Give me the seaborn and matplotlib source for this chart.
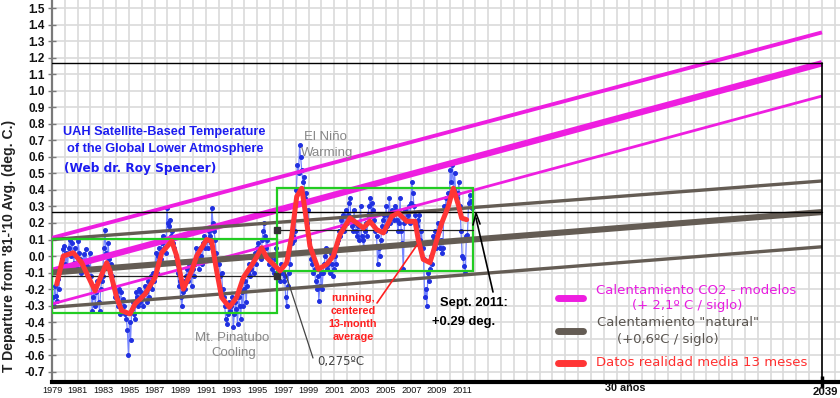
import numpy as np
import pandas as pd
import matplotlib
matplotlib.use("Agg")
import matplotlib.pyplot as plt
import seaborn as sns
from matplotlib.lines import Line2D
from matplotlib.patches import Rectangle

# ---------------- data ----------------
start_year = 1979
monthly_anomaly = [
    -0.25, -0.30, -0.18, -0.24, -0.27, -0.14, -0.20, -0.08, -0.05, -0.02, 0.04, 0.06,   # 1979
    -0.05, 0.02, -0.08, 0.05, 0.10, 0.00, 0.08, 0.02, -0.04, 0.05, 0.00, -0.07,        # 1980
    0.09, 0.02, -0.02, -0.10, -0.06, 0.01, -0.04, 0.04, -0.06, -0.12, -0.03, 0.02,     # 1981
    -0.12, -0.33, -0.25, -0.18, -0.30, -0.22, -0.15, -0.28, -0.33, -0.20, -0.15, -0.12,  # 1982
    0.05, 0.16, 0.02, -0.05, 0.08, -0.02, -0.10, -0.05, -0.12, -0.18, -0.25, -0.22,    # 1983
    -0.25, -0.30, -0.20, -0.35, -0.22, -0.33, -0.26, -0.30, -0.35, -0.38, -0.45, -0.60,  # 1984
    -0.40, -0.51, -0.32, -0.28, -0.35, -0.38, -0.22, -0.25, -0.30, -0.20, -0.28, -0.22,  # 1985
    -0.25, -0.30, -0.18, -0.22, -0.28, -0.15, -0.25, -0.18, -0.12, -0.20, -0.10, -0.15,  # 1986
    -0.05, 0.02, -0.10, 0.00, 0.05, -0.02, 0.08, 0.12, 0.05, 0.10, 0.02, 0.29,         # 1987
    0.20, 0.18, 0.22, 0.12, 0.15, 0.08, 0.05, 0.00, -0.05, -0.10, -0.18, -0.15,        # 1988
    -0.25, -0.30, -0.22, -0.15, -0.20, -0.12, -0.08, -0.15, -0.05, -0.10, -0.18, -0.08,  # 1989
    -0.12, -0.05, 0.05, -0.02, 0.02, -0.08, 0.05, 0.00, -0.05, 0.08, 0.12, 0.05,       # 1990
    0.10, 0.05, 0.15, 0.12, 0.08, 0.29, 0.20, 0.15, 0.10, 0.02, -0.02, -0.05,          # 1991
    -0.05, -0.12, -0.10, -0.20, -0.25, -0.30, -0.38, -0.41, -0.35, -0.28, -0.33, -0.30,  # 1992
    -0.25, -0.43, -0.35, -0.28, -0.32, -0.41, -0.25, -0.30, -0.38, -0.22, -0.30, -0.20,  # 1993
    -0.15, -0.28, -0.18, -0.10, -0.05, -0.12, -0.08, 0.00, -0.10, 0.02, -0.05, 0.05,   # 1994
    0.08, 0.00, 0.05, -0.02, 0.10, 0.15, 0.20, 0.12, 0.05, 0.10, -0.05, -0.02,         # 1995
    0.00, -0.08, -0.05, -0.10, -0.02, 0.05, -0.10, -0.12, -0.08, -0.15, -0.05, -0.10,  # 1996
    -0.15, -0.12, -0.25, -0.30, -0.18, -0.10, -0.05, 0.02, 0.08, 0.12, 0.10, 0.15,     # 1997
    0.40, 0.55, 0.50, 0.67, 0.60, 0.52, 0.45, 0.48, 0.35, 0.38, 0.20, 0.28,            # 1998
    0.10, 0.05, -0.02, -0.05, -0.10, -0.08, -0.15, -0.20, -0.12, -0.27, -0.18, -0.10,  # 1999
    -0.20, -0.10, -0.05, 0.00, 0.05, -0.08, -0.05, -0.10, 0.02, -0.05, -0.12, -0.08,   # 2000
    0.00, -0.05, 0.08, 0.10, 0.15, 0.12, 0.22, 0.18, 0.25, 0.15, 0.28, 0.20,           # 2001
    0.25, 0.32, 0.35, 0.22, 0.18, 0.15, 0.28, 0.20, 0.15, 0.12, 0.18, 0.10,            # 2002
    0.30, 0.12, 0.10, 0.05, 0.15, 0.20, 0.12, 0.25, 0.30, 0.35, 0.25, 0.32,            # 2003
    0.28, 0.22, 0.15, 0.12, -0.05, 0.05, 0.00, 0.10, 0.18, 0.22, 0.25, 0.15,           # 2004
    0.30, 0.18, 0.25, 0.35, 0.20, 0.28, 0.25, 0.22, 0.30, 0.28, 0.22, 0.15,            # 2005
    0.20, 0.35, 0.15, 0.08, -0.08, 0.20, 0.28, 0.22, 0.25, 0.30, 0.20, 0.32,           # 2006
    0.45, 0.38, 0.30, 0.25, 0.20, 0.18, 0.22, 0.25, 0.10, 0.15, 0.05, -0.02,           # 2007
    -0.25, -0.20, -0.30, -0.10, -0.15, -0.08, 0.00, -0.05, 0.12, 0.10, 0.15, 0.05,     # 2008
    0.20, 0.15, 0.05, 0.10, 0.02, 0.05, 0.30, 0.28, 0.35, 0.30, 0.38, 0.35,            # 2009
    0.52, 0.45, 0.55, 0.40, 0.50, 0.38, 0.35, 0.38, 0.45, 0.30, 0.15, 0.00,            # 2010
    -0.01, -0.06, -0.10, 0.12, 0.13, 0.32, 0.37, 0.33, 0.29,                           # 2011
]

avg13_year = [1979.37, 1979.88, 1980.66, 1981.31, 1982.35, 1983.26, 1983.52, 1984.04,
              1984.43, 1985.08, 1985.47, 1986.25, 1987.03, 1987.55, 1988.33, 1988.72,
              1989.23, 1989.89, 1990.27, 1991.05, 1991.44, 1991.83, 1992.22, 1992.82,
              1993.39, 1993.91, 1994.69, 1995.34, 1995.73, 1996.77, 1997.29, 1997.68,
              1998.07, 1998.46, 1998.71, 1999.10, 1999.75, 2000.41, 2000.92, 2001.44,
              2002.22, 2002.74, 2003.26, 2003.78, 2004.30, 2004.82, 2005.47, 2005.98,
              2006.64, 2007.29, 2007.54, 2007.93, 2008.45, 2008.84, 2009.37, 2009.88,
              2010.27, 2010.66, 2010.92, 2011.31]
avg13_value = [-0.17, 0.00, 0.02, -0.04, -0.21, -0.04, -0.09, -0.25,
               -0.33, -0.35, -0.29, -0.23, -0.13, 0.02, 0.09, 0.00,
               -0.20, -0.09, 0.00, 0.10, 0.09, -0.09, -0.25, -0.31,
               -0.25, -0.13, -0.04, 0.05, -0.01, -0.09, -0.04, 0.12,
               0.36, 0.41, 0.28, 0.06, -0.08, -0.05, 0.00, 0.13,
               0.23, 0.20, 0.17, 0.21, 0.16, 0.14, 0.24, 0.26,
               0.21, 0.21, 0.10, -0.02, -0.04, 0.06, 0.20, 0.30,
               0.41, 0.31, 0.23, 0.22]

trend_years = [1979, 2039]
co2_center = [-0.09, 1.166]
co2_upper = [0.11, 1.353]
co2_lower = [-0.29, 0.968]
nat_center = [-0.10, 0.266]
nat_upper = [0.10, 0.454]
nat_lower = [-0.31, 0.056]

box_years = [[1979.0, 1996.5], [1996.5, 2011.8]]
box_low = [-0.345, -0.09]
box_high = [0.105, 0.41]
box_mean = [-0.12, 0.157]

xtick_years = list(range(1979, 2012, 2))
ytick_values = [round(v, 1) for v in np.arange(-0.7, 1.501, 0.1)]

# ---------------- figure ----------------
sns.set_theme(style="white")
plt.rcParams['font.family'] = ['Liberation Sans', 'DejaVu Sans']

W, H = 840, 398
fig = plt.figure(figsize=(W / 100, H / 100), dpi=100)
ax = fig.add_axes([52 / W, 16 / H, (W - 52) / W, 382 / H])
XMAX = 1979 + (W - 52) / 12.833
ax.set_xlim(1979, XMAX)
ax.set_ylim(-0.762, 1.549)
ax.set_facecolor('white')

def fx(px):
    return px / W

def fy(py):
    return 1 - py / H

# grid
for yr in range(1980, 2041):
    ax.axvline(yr, color='#dadada', lw=1.2, zorder=0)
for v in ytick_values:
    ax.axhline(v, color='#dadada', lw=1.2, zorder=0)

# monthly data (blue)
t = [start_year + (i + 0.5) / 12 for i in range(len(monthly_anomaly))]
df = pd.DataFrame({'t': t, 'v': monthly_anomaly})
sns.lineplot(data=df, x='t', y='v', ax=ax, color='#7585ff', lw=0.9, zorder=3,
             marker='o', markersize=2.8, markerfacecolor='#2030e0',
             markeredgecolor='#2030e0', estimator=None, sort=False)

# trend lines
mag = '#ee1ee0'
gry = '#645c54'
ax.plot(trend_years, co2_upper, color=mag, lw=2.8, zorder=4, solid_capstyle='butt')
ax.plot(trend_years, co2_center, color=mag, lw=4.6, zorder=4, solid_capstyle='butt')
ax.plot(trend_years, co2_lower, color=mag, lw=2.0, zorder=4, solid_capstyle='butt')
ax.plot(trend_years, nat_upper, color=gry, lw=2.4, zorder=4, solid_capstyle='butt')
ax.plot(trend_years, nat_center, color=gry, lw=4.4, zorder=4, solid_capstyle='butt')
ax.plot(trend_years, nat_lower, color=gry, lw=2.4, zorder=4, solid_capstyle='butt')

# reference black lines
ax.plot([1979, 2039], [co2_center[1]] * 2, color='black', lw=1.0, zorder=4)
ax.plot([1979, 2039], [nat_center[1]] * 2, color='black', lw=1.0, zorder=4)
ax.plot([2039, 2039], [-0.762, co2_center[1]], color='black', lw=1.2, zorder=4)

# green boxes + mean lines
for (x0, x1), lo, hi, m in zip(box_years, box_low, box_high, box_mean):
    ax.add_patch(Rectangle((x0, lo), x1 - x0, hi - lo, fill=False,
                           edgecolor='#22cc22', lw=1.6, zorder=4))
    ax.plot([x0, x1], [m, m], color='#222222', lw=0.9, zorder=4)
ax.plot([1996.5, 1996.5], box_mean, ls='none', marker='s', ms=4.5, color='#333333', zorder=5)

# 13-month average (red)
df2 = pd.DataFrame({'t': avg13_year, 'v': avg13_value})
sns.lineplot(data=df2, x='t', y='v', ax=ax, color='#ff3535', lw=3.6, zorder=6,
             estimator=None, sort=False)
for line in ax.get_lines()[-1:]:
    line.set_solid_joinstyle('round')
    line.set_solid_capstyle('round')

# axes styling
ax.set_xlabel('')
ax.set_ylabel('')
for s in ['top', 'right']:
    ax.spines[s].set_visible(False)
ax.spines['bottom'].set_color('black')
ax.spines['bottom'].set_linewidth(3)
ax.spines['left'].set_color('#7a7a7a')
ax.spines['left'].set_linewidth(1.6)

ax.set_yticks(ytick_values)
ax.set_yticklabels([('%.1f' % v) if abs(v) > 1e-9 else '0.0' for v in ytick_values],
                   fontsize=8.5, fontweight='bold', color='#111111')
ax.tick_params(axis='y', which='major', direction='inout', length=6, width=1,
               color='#7a7a7a', pad=2, left=True)
ax.set_xticks(xtick_years)
ax.set_xticklabels([str(y) for y in xtick_years], fontsize=6.6, color='#111111')
ax.tick_params(axis='x', which='major', length=0, pad=3, bottom=True)
ax.set_xticks([1979, 2009, 2039], minor=True)
ax.tick_params(axis='x', which='minor', direction='inout', length=9, width=2.5,
               color='black', bottom=True)
ax.set_xlim(1979, XMAX)

fig.text(fx(625), fy(388), '30 años', ha='center', va='center', fontsize=7.8,
         fontweight='bold', color='#111111')
fig.text(fx(825), fy(392), '2039', ha='center', va='center', fontsize=8.2,
         fontweight='bold', color='#111111')

# y label
fig.text(fx(9), fy(246), "T Departure from '81-'10 Avg. (deg. C.)", rotation=90,
         ha='center', va='center', fontsize=10, fontweight='bold', color='#222222')

# title texts
blue = '#1c1cf0'
fig.text(fx(164), fy(132), 'UAH Satellite-Based Temperature', ha='center', va='center',
         fontsize=9.2, fontweight='bold', color=blue)
fig.text(fx(165), fy(149), 'of the Global Lower Atmosphere', ha='center', va='center',
         fontsize=9.2, fontweight='bold', color=blue)
fig.text(fx(64), fy(168), '(Web dr. Roy Spencer)', ha='left', va='center',
         fontsize=8.7, fontweight='bold', color=blue, family='DejaVu Sans')

# grey annotations
grey_txt = '#888888'
fig.text(fx(325), fy(137), 'El Niño', ha='center', va='center', fontsize=9.5, color=grey_txt)
fig.text(fx(327), fy(153), 'Warming', ha='center', va='center', fontsize=9.5, color=grey_txt)
fig.text(fx(232), fy(338), 'Mt. Pinatubo', ha='center', va='center', fontsize=9.5, color=grey_txt)
fig.text(fx(234), fy(353), 'Cooling', ha='center', va='center', fontsize=9.5, color=grey_txt)

# running average text
for txt, py in zip(['running,', 'centered', '13-month', 'average'], [298, 311, 324, 337]):
    fig.text(fx(353), fy(py), txt, ha='center', va='center', fontsize=7.8,
             fontweight='bold', color='#ff2020')
fig.add_artist(Line2D([fx(377), fx(417)], [fy(303), fy(245)], color='#ff2020', lw=1.2))

# 0,275 annotation
fig.add_artist(Line2D([fx(285), fx(313)], [fy(272), fy(358)], color='#444444', lw=0.9))
fig.text(fx(317), fy(362), '0,275ºC', ha='left', va='center', fontsize=8.5,
         color='#444444', family='DejaVu Sans')

# Sept 2011
fig.text(fx(440), fy(303), 'Sept. 2011:', ha='left', va='center', fontsize=9.4,
         fontweight='bold', color='black')
fig.text(fx(432), fy(322), '+0.29 deg.', ha='left', va='center', fontsize=9.4,
         fontweight='bold', color='black')
fig.add_artist(Line2D([fx(493), fx(476)], [fy(292), fy(218)], color='black', lw=1.2))
fig.add_artist(Line2D([fx(473), fx(476), fx(480)], [fy(225), fy(213), fy(224)],
                      color='black', lw=1.2))

# legend (manual)
leg_items = [
    (298, mag, [('Calentamiento CO2 - modelos', 596, 291), ('(+ 2,1º C / siglo)', 632, 305)], '#e81ce0'),
    (331, gry, [('Calentamiento "natural"', 597, 323), ('(+0,6ºC / siglo)', 617, 339)], '#5a5550'),
    (363, '#ff3535', [('Datos realidad media 13 meses', 596, 362)], '#ff3030'),
]
for py, c, texts, tc in leg_items:
    fig.add_artist(Line2D([fx(558), fx(583)], [fy(py), fy(py)], color=c, lw=5,
                          solid_capstyle='round'))
    for s, px, ty in texts:
        fig.text(fx(px), fy(ty), s, ha='left', va='center', fontsize=9.5, color=tc,
                 family='DejaVu Sans')

fig.savefig('out.png', dpi=100)
